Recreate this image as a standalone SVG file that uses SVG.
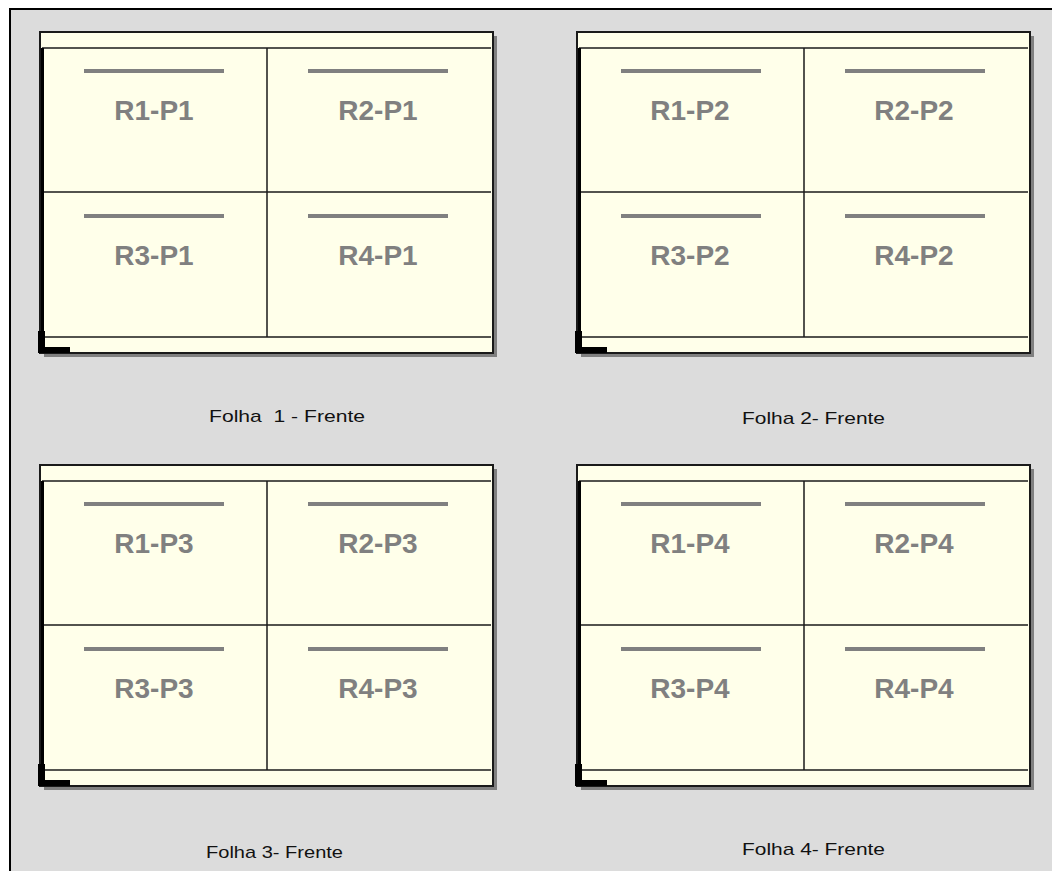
<svg xmlns="http://www.w3.org/2000/svg" width="1052" height="871" viewBox="0 0 1052 871">
<defs>
<style>
.shadow{fill:#808080}
.sheet{fill:#ffffea;stroke:#1a1a1a;stroke-width:2}
.ln{stroke:#1a1a1a;stroke-width:1.5;fill:none}
.bar{stroke:#808080;stroke-width:4}
.cell{font-family:"Liberation Sans",Arial,sans-serif;font-size:28px;font-weight:bold;fill:#808080;text-anchor:middle}
.lbl{font-family:"Liberation Sans",Arial,sans-serif;font-size:17px;fill:#111}
.mark{fill:#000}
</style>
<g id="sheetTpl">
<rect class="shadow" x="4" y="4" width="453" height="321"/>
<rect class="sheet" x="0" y="0" width="453" height="321"/>
<line class="ln" x1="2" y1="16" x2="451" y2="16"/>
<line class="ln" x1="2" y1="160" x2="451" y2="160"/>
<line class="ln" x1="2" y1="305" x2="451" y2="305"/>
<line class="ln" x1="227" y1="16" x2="227" y2="305"/>
<line x1="2.5" y1="16" x2="2.5" y2="305" stroke="#000" stroke-width="3"/>
<line class="bar" x1="44" y1="39" x2="184" y2="39"/>
<line class="bar" x1="268" y1="39" x2="408" y2="39"/>
<line class="bar" x1="44" y1="184" x2="184" y2="184"/>
<line class="bar" x1="268" y1="184" x2="408" y2="184"/>
<path class="mark" d="M-2,299 h7 v16 h25 v6 h-32 z"/>
</g>
</defs>
<rect x="0" y="0" width="1052" height="871" fill="#ffffff"/>
<rect x="10" y="9" width="1042" height="862" fill="#dcdcdc"/>
<line x1="9" y1="9" x2="1052" y2="9" stroke="#000" stroke-width="2"/>
<line x1="10" y1="8" x2="10" y2="871" stroke="#000" stroke-width="2"/>

<g id="sheet1">
<use href="#sheetTpl" x="40" y="32"/>
<text class="cell" x="154" y="120">R1-P1</text>
<text class="cell" x="378" y="120">R2-P1</text>
<text class="cell" x="154" y="265">R3-P1</text>
<text class="cell" x="378" y="265">R4-P1</text>
<text class="lbl" x="209" y="422" textLength="156" lengthAdjust="spacingAndGlyphs" xml:space="preserve">Folha  1 - Frente</text>
</g>
<g id="sheet2">
<use href="#sheetTpl" x="577" y="32"/>
<text class="cell" x="690" y="120">R1-P2</text>
<text class="cell" x="914" y="120">R2-P2</text>
<text class="cell" x="690" y="265">R3-P2</text>
<text class="cell" x="914" y="265">R4-P2</text>
<text class="lbl" x="742" y="424" textLength="143" lengthAdjust="spacingAndGlyphs">Folha 2- Frente</text>
</g>
<g id="sheet3">
<use href="#sheetTpl" x="40" y="465"/>
<text class="cell" x="154" y="553">R1-P3</text>
<text class="cell" x="378" y="553">R2-P3</text>
<text class="cell" x="154" y="698">R3-P3</text>
<text class="cell" x="378" y="698">R4-P3</text>
<text class="lbl" x="206" y="858" textLength="137" lengthAdjust="spacingAndGlyphs">Folha 3- Frente</text>
</g>
<g id="sheet4">
<use href="#sheetTpl" x="577" y="465"/>
<text class="cell" x="690" y="553">R1-P4</text>
<text class="cell" x="914" y="553">R2-P4</text>
<text class="cell" x="690" y="698">R3-P4</text>
<text class="cell" x="914" y="698">R4-P4</text>
<text class="lbl" x="742" y="855" textLength="143" lengthAdjust="spacingAndGlyphs">Folha 4- Frente</text>
</g>
</svg>
